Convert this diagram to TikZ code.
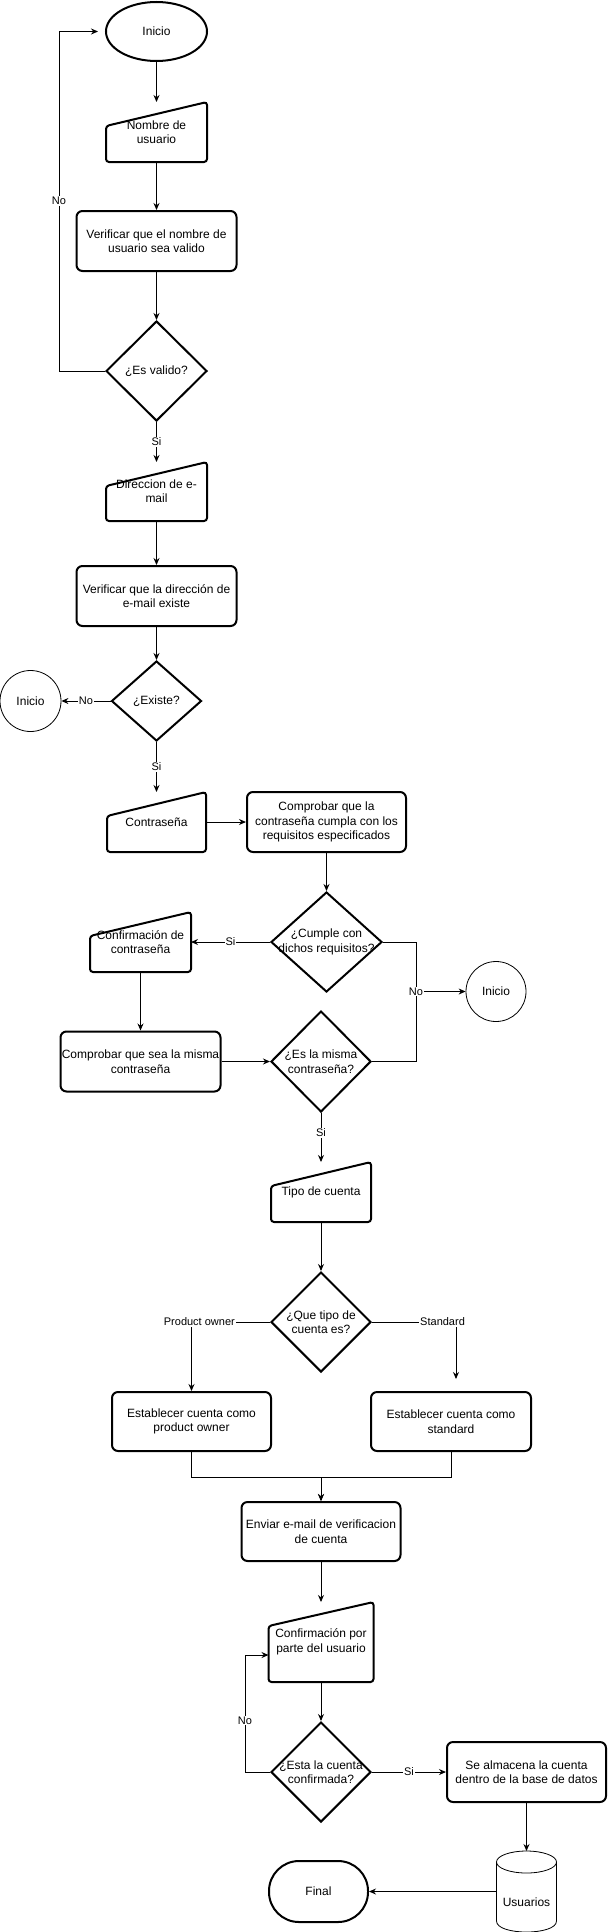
\documentclass[tikz,border=0pt]{standalone}
\usepackage{fontspec}
\setmainfont{Liberation Sans}
\usepackage{tikz}
\usetikzlibrary{arrows.meta}
\usetikzlibrary{shapes.geometric}
\usetikzlibrary{calc}

\begin{document}
\begin{tikzpicture}[x=1pt,y=-1pt,
  every node/.style={font=\fontsize{12}{14.4}\selectfont,align=center},
  box/.style={draw,line width=2pt,rounded corners=6pt,inner sep=1pt,minimum width=160pt,minimum height=60pt},
  input/.style={inner sep=1pt,outer sep=0pt,minimum width=101pt,minimum height=60pt},
  decision/.style={diamond,draw,line width=2pt,inner sep=0pt,minimum width=100pt,minimum height=100pt},
  start/.style={ellipse,draw,line width=2pt,minimum width=101pt,minimum height=59pt},
  conn/.style={circle,draw,line width=0.8pt,inner sep=0pt,minimum size=60pt},
  arr/.style={draw,line width=1pt,-{Stealth[length=7pt,width=6pt]}},
  lbl/.style={fill=white,inner sep=1pt,font=\fontsize{11}{13}\selectfont}]
\useasboundingbox (0,0) rectangle (608,1932);

\node[start] (inicio) at (156.5,31.5) {Inicio};
\node[input] (nombre) at (156.5,132) {Nombre de\\usuario};
\node[box] (verifnom) at (156.5,241) {Verificar que el nombre de\\usuario sea valido};
\node[decision,minimum width=101pt,label={center:{¿Es valido?}}] (esvalido) at (156.5,371) {};
\node[input,minimum height=59pt] (direccion) at (156.5,491.5) {Direccion de e-\\mail};
\node[box] (verifmail) at (156.5,596) {Verificar que la dirección de\\e-mail existe};
\node[decision,minimum width=90pt,minimum height=80pt,label={center:{¿Existe?}}] (existe) at (156.5,701) {};
\node[conn,minimum size=61pt] (inicioa) at (30.5,701) {Inicio};
\node[input,minimum width=99pt] (contra) at (156.5,822) {Contraseña};
\node[box,minimum width=159pt] (requisitos) at (326.5,822) {Comprobar que la\\contraseña cumpla con los\\requisitos especificados};
\node[decision,minimum width=111pt,label={center:{¿Cumple con\\dichos requisitos?}}] (cumple) at (326.5,942) {};
\node[input] (confcontra) at (140.5,942) {Confirmación de\\contraseña};
\node[box] (misma) at (140.5,1061.5) {Comprobar que sea la misma\\contraseña};
\node[decision,minimum height=101pt,label={center:{¿Es la misma\\contraseña?}}] (esmisma) at (321,1061.5) {};
\node[conn] (iniciob) at (496,991.5) {Inicio};
\node[input,minimum width=100pt] (tipo) at (321,1192) {Tipo de cuenta};
\node[decision,label={center:{¿Que tipo de\\cuenta es?}}] (quetipo) at (321,1322) {};
\node[box,minimum width=159pt,minimum height=59pt] (owner) at (191.5,1421.5) {Establecer cuenta como\\product owner};
\node[box,minimum height=59pt] (standard) at (451,1421.5) {Establecer cuenta como\\standard};
\node[box,minimum width=159pt,minimum height=59pt] (enviar) at (321,1531.5) {Enviar e-mail de verificacion\\de cuenta};
\node[input,minimum width=105pt,minimum height=80pt] (confusr) at (321,1642) {Confirmación por\\parte del usuario};
\node[decision,label={center:{¿Esta la cuenta\\confirmada?}}] (confirmada) at (321,1772) {};
\node[box,minimum width=159pt] (almacena) at (526.5,1772) {Se almacena la cuenta\\dentro de la base de datos};
\node[inner sep=0pt,outer sep=0pt,minimum width=60pt,minimum height=81pt,label={[yshift=-10.5pt]center:Usuarios}] (usuarios) at (526.5,1891.5) {};
\node[draw,line width=2pt,rounded corners=30pt,minimum width=99pt,minimum height=61pt] (final) at (318.5,1891.5) {Final};

\foreach \n in {nombre,direccion,contra,confcontra,tipo,confusr}
  \draw[line width=2pt,rounded corners=3pt] (\n.south west) -- ([yshift=-24pt]\n.north west) -- (\n.north east) -- (\n.south east) -- cycle;

\draw[line width=0.8pt] ($(usuarios.north)+(0,11)$) ellipse [x radius=30, y radius=11];
\draw[line width=0.8pt] ($(usuarios.north west)+(0,11)$) -- ($(usuarios.south west)+(0,-11)$) .. controls +(0,14.7) and +(0,14.7) .. ($(usuarios.south east)+(0,-11)$) -- ($(usuarios.north east)+(0,11)$);

\draw[arr] (inicio) -- (nombre);
\draw[arr] (nombre) -- (verifnom);
\draw[arr] (verifnom) -- (esvalido);
\draw[arr,shorten >=7pt] (esvalido.west) -- ++(-46,0) |- node[lbl,pos=0.25]{No} (inicio.west);
\draw[arr] (esvalido) -- node[lbl]{Si} (direccion);
\draw[arr] (direccion) -- (verifmail);
\draw[arr] (verifmail) -- (existe);
\draw[arr] (existe) -- node[lbl]{No} (inicioa);
\draw[arr] (existe) -- node[lbl]{Si} (contra);
\draw[arr] (contra) -- (requisitos);
\draw[arr] (requisitos) -- (cumple);
\draw[arr] (cumple) -- node[lbl]{Si} (confcontra);
\draw[arr] (confcontra) -- (misma);
\draw[arr] (misma) -- (esmisma);
\coordinate (nojoin) at (416,991.5);
\draw[line width=1pt] (cumple.east) -| (nojoin);
\draw[line width=1pt] (esmisma.east) -| (nojoin);
\draw[arr] (nojoin) -- node[lbl,pos=0]{No} (iniciob);
\draw[arr] (esmisma) -- node[lbl,pos=0.4]{Si} (tipo);
\draw[arr] (tipo) -- (quetipo);
\draw[arr] (quetipo.west) -| node[lbl,pos=0.45]{Product owner} (owner.north);
\draw[arr,shorten >=12pt] (quetipo.east) -| node[lbl,pos=0.42]{Standard} ([xshift=5pt]standard.north);
\draw[arr] (owner.south) -- ++(0,25) -| (enviar.north);
\draw[arr] (standard.south) -- ++(0,25) -| (enviar.north);
\draw[arr] (enviar) -- (confusr);
\draw[arr] (confusr) -- (confirmada);
\draw[arr] (confirmada.west) -- ++(-25,0) |- node[lbl,pos=0.22]{No} ([yshift=-13pt]confusr.west);
\draw[arr] (confirmada) -- node[lbl]{Si} (almacena);
\draw[arr] (almacena) -- (usuarios);
\draw[arr] (usuarios) -- (final);
\end{tikzpicture}
\end{document}
